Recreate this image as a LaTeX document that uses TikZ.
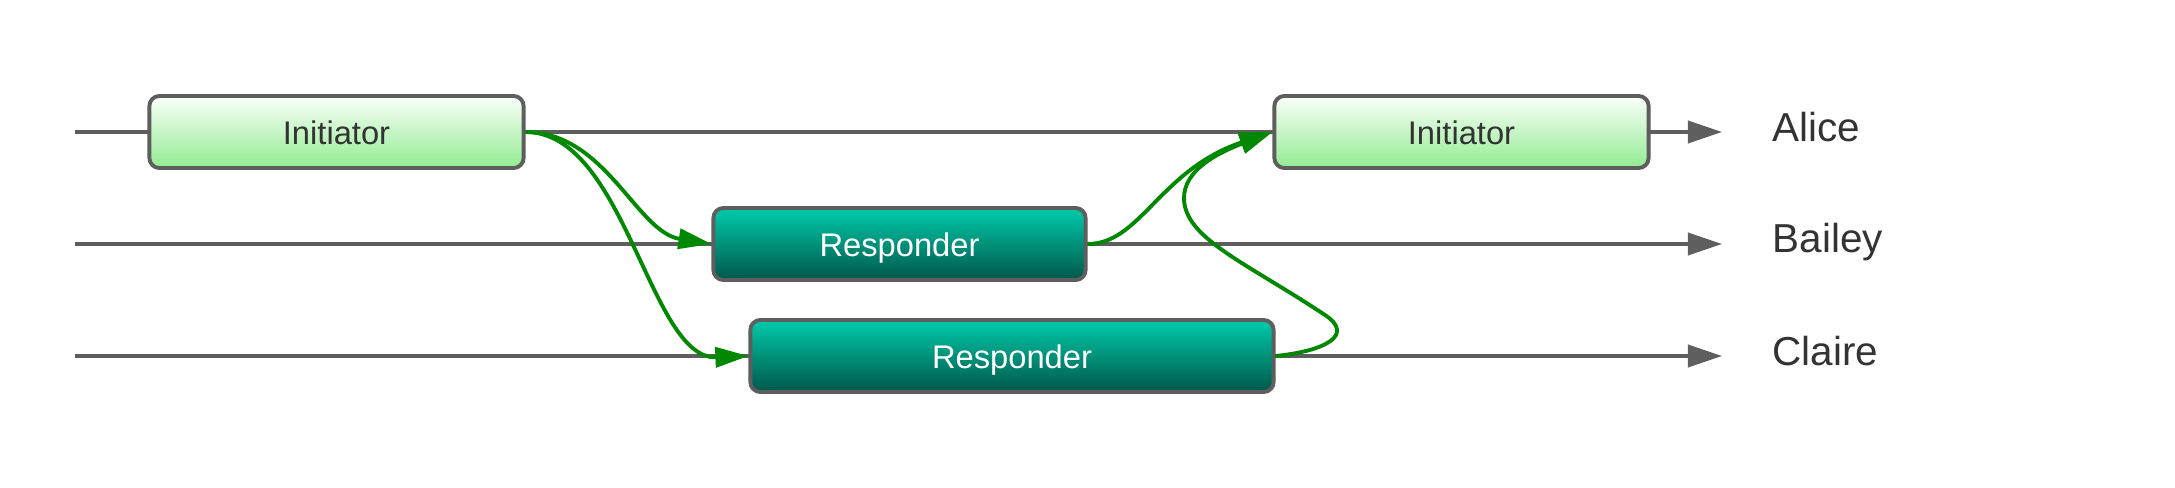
\documentclass[tikz,border=0pt]{standalone}
\usepackage{fontspec}
\setmainfont{Liberation Sans}
\usetikzlibrary{arrows.meta}
\definecolor{lifegray}{HTML}{5E5E5E}
\definecolor{msggreen}{HTML}{008800}
\definecolor{txtdark}{HTML}{333333}
\definecolor{inittop}{HTML}{FAFFFA}
\definecolor{initbot}{HTML}{92EC92}
\definecolor{resptop}{HTML}{00CBAA}
\definecolor{respbot}{HTML}{00574A}
\begin{document}
\begin{tikzpicture}[x=0.01cm,y=-0.01cm,
  lifeline/.style={draw=lifegray,line width=1pt,-{Triangle[length=0.34cm,width=0.22cm]}},
  msg/.style={draw=msggreen,line width=1.1pt,-{Triangle[length=0.33cm,width=0.2cm]}},
  box/.style={draw=lifegray,line width=1.1pt,rounded corners=0.1cm,minimum height=0.72cm,inner sep=0pt,text height=0.69em,text depth=0pt,font=\fontsize{9.3}{11}\selectfont},
  initbox/.style={box,top color=inittop,bottom color=initbot,text=txtdark,minimum width=3.74cm},
  respbox/.style={box,top color=resptop,bottom color=respbot,text=white},
  who/.style={anchor=base west,inner sep=0pt,text=txtdark,font=\fontsize{11.5}{13}\selectfont}]
\path[use as bounding box] (0,0) rectangle (2175,488);
% lifelines
\coordinate (a0) at (75,132);  \coordinate (a1) at (1722,132);
\coordinate (b0) at (75,244);  \coordinate (b1) at (1722,244);
\coordinate (c0) at (75,356);  \coordinate (c1) at (1722,356);
\draw[lifeline] (a0) -- (a1);
\draw[lifeline] (b0) -- (b1);
\draw[lifeline] (c0) -- (c1);
% boxes
\node[initbox] (i1) at (336.5,132) {Initiator};
\node[respbox,minimum width=3.72cm] (r1) at (899.5,244) {Responder};
\node[respbox,minimum width=5.23cm] (r2) at (1012,356) {Responder};
\node[initbox] (i2) at (1461.5,132) {Initiator};
% names
\node[who] (alice) at (1772,141.7) {Alice};
\node[who] (bailey) at (1772,253) {Bailey};
\node[who] (claire) at (1772,366) {Claire};
% messages
\draw[msg] (i1.east) .. controls +(80,0) and +(-75,-12) .. (r1.west);
\draw[msg] (i1.east) .. controls +(100,0) and +(-99,4) .. (r2.west);
\draw[msg] (r1.east) .. controls +(53,0) and +(-113,38) .. (i2.west);
\coordinate (hook) at (1325,315);
\coordinate (turn) at (1184,198);
\draw[msg] (r2.east) .. controls +(50,-5) and +(30,20) .. (hook)
  .. controls +(-80,-53) and +(0,40) .. (turn)
  .. controls +(0,-28) and +(-55,21) .. (i2.west);
\end{tikzpicture}
\end{document}
